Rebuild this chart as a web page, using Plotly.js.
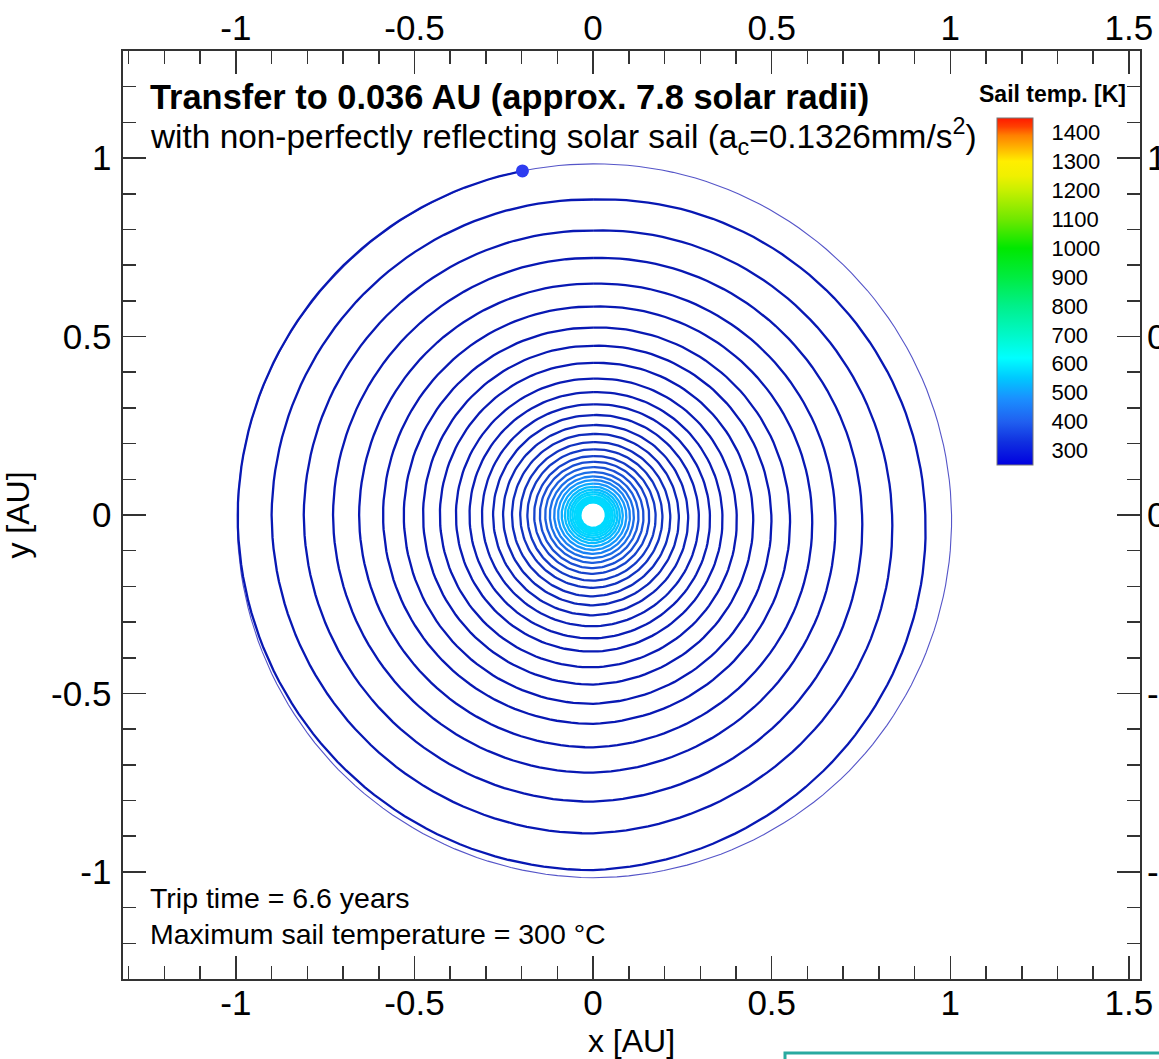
<!DOCTYPE html>
<html><head><meta charset="utf-8">
<script src="https://cdn.plot.ly/plotly-3.0.1.min.js"></script>
<style>html,body{margin:0;padding:0;background:#fff}</style>
</head><body><div id="chart" style="width:1159px;height:1059px"></div>
<script>
// ---------- data ----------
// spiral: radius [AU] at the start point and then at every quarter turn (180°, 270°, 360°, ...)
const spiralStartAngleDeg = 101.6;
const spiralR = [
0.984, 0.995, 0.995,
0.930, 0.884, 0.900, 0.892,
0.837, 0.797, 0.810, 0.803,
0.753, 0.720, 0.728, 0.722,
0.678, 0.648, 0.655, 0.651,
0.613, 0.584, 0.588, 0.585,
0.551, 0.525, 0.530, 0.529,
0.499, 0.474, 0.476, 0.475,
0.448, 0.426, 0.429, 0.427,
0.402, 0.382, 0.384, 0.383,
0.362, 0.344, 0.346, 0.346,
0.327, 0.310, 0.311, 0.312,
0.296, 0.280, 0.280, 0.281,
0.266, 0.252, 0.252, 0.253,
0.240, 0.227, 0.227, 0.228,
0.216, 0.204, 0.204, 0.204,
0.194, 0.184, 0.184, 0.184,
0.175, 0.165, 0.165, 0.165,
0.157, 0.149, 0.149, 0.149,
0.141, 0.134, 0.134, 0.134,
0.127, 0.120, 0.121, 0.121,
0.114, 0.108, 0.109, 0.109,
0.103, 0.098, 0.098, 0.098,
0.093, 0.088, 0.088, 0.088,
0.083, 0.079, 0.079, 0.079,
0.075, 0.071, 0.071, 0.071,
0.068, 0.064, 0.064, 0.064,
0.061, 0.058, 0.058, 0.058,
0.055, 0.051, 0.052, 0.052,
0.050, 0.047, 0.047, 0.047,
0.045, 0.043, 0.043, 0.043,
0.041, 0.039, 0.039, 0.039,
0.037, 0.036, 0.036, 0.036,
0.036, 0.036, 0.036
];
// sail temperature [K] on each successive turn (4 quarter segments per turn)
const turnTempK = [300,300,300,300,300,300,300,301,303,306,310,315,321,328,337,347,358,372,390,412,436,462,488,512,532,548,558,565,569,571,572,573,573,573];
// Earth orbit radius [AU] at polar angles
const earthAngleDeg = [0, 45, 90, 135, 180, 225, 270, 315];
const earthR = [1.0035, 0.9909, 0.9837, 0.9858, 0.9960, 1.0087, 1.0163, 1.0141];
// colour bar
const tempScaleK = [250, 330, 400, 480, 550, 620, 700, 800, 900, 1000, 1100, 1200, 1250, 1300, 1350, 1390, 1420, 1450];
const tempScaleColors = ['#0000e0','#1030e0','#2060f0','#1a90ff','#00c8ff','#00ffff','#00f8c8','#00f08a','#00ec40','#00e800','#70e800','#c8f000','#f0f000','#ffee00','#ffb000','#ff8000','#ff4000','#ff1a00'];
const cbTickVals = [300, 400, 500, 600, 700, 800, 900, 1000, 1100, 1200, 1300, 1400];
// axis ticks
const xTickVals = [-1, -0.5, 0, 0.5, 1, 1.5];
const xTickText = ['-1', '-0.5', '0', '0.5', '1', '1.5'];
const yTickVals = [-1, -0.5, 0, 0.5, 1];
const yTickText = ['-1', '-0.5', '0', '0.5', '1'];

// ---------- helpers ----------
const FONT = 'Liberation Sans, Arial, Helvetica, sans-serif';
const tMin = tempScaleK[0], tMax = tempScaleK[tempScaleK.length - 1];
const colorscale = tempScaleK.map((t, i) => [(t - tMin) / (tMax - tMin), tempScaleColors[i]]);
function hex2rgb(h) { return [parseInt(h.slice(1,3),16), parseInt(h.slice(3,5),16), parseInt(h.slice(5,7),16)]; }
function tempColor(T) {
  let i = 0;
  while (i < tempScaleK.length - 2 && T > tempScaleK[i + 1]) i++;
  const f = Math.max(0, Math.min(1, (T - tempScaleK[i]) / (tempScaleK[i + 1] - tempScaleK[i])));
  const a = hex2rgb(tempScaleColors[i]), b = hex2rgb(tempScaleColors[i + 1]);
  const dark = 0.8 + 0.2 * Math.min(1, Math.max(0, (T - 300) / 200));
  const c = a.map((v, k) => Math.round((v + (b[k] - v) * f) * dark));
  return 'rgb(' + c.join(',') + ')';
}
const rad = Math.PI / 180;
function pointAngle(i) { return i === 0 ? spiralStartAngleDeg : 180 + 90 * (i - 1); }

// ---------- traces ----------
const traces = [];
// Earth orbit
{
  const ex = [], ey = [];
  const n = earthAngleDeg.length;
  for (let k = 0; k < n; k++) {
    const a0 = earthAngleDeg[k], a1 = k + 1 < n ? earthAngleDeg[k + 1] : 360;
    const r0 = earthR[k], r1 = earthR[(k + 1) % n];
    for (let s = 0; s < 24; s++) {
      const t = s / 24, a = (a0 + (a1 - a0) * t) * rad, r = r0 + (r1 - r0) * t;
      ex.push(r * Math.cos(a)); ey.push(r * Math.sin(a));
    }
  }
  ex.push(ex[0]); ey.push(ey[0]);
  traces.push({type: 'scatter', mode: 'lines', x: ex, y: ey, line: {color: 'rgb(85,85,200)', width: 1.1}, hoverinfo: 'skip', showlegend: false});
}
// spiral, one trace per turn
{
  const nTurns = Math.ceil((spiralR.length - 1) / 4);
  for (let turn = 0; turn < nTurns; turn++) {
    const xs = [], ys = [];
    for (let j = turn * 4; j < Math.min(turn * 4 + 4, spiralR.length - 1); j++) {
      const a0 = pointAngle(j), a1 = pointAngle(j + 1);
      const r0 = spiralR[j], r1 = spiralR[j + 1];
      const steps = Math.max(4, Math.ceil((a1 - a0) / 2));
      for (let s = (j === turn * 4 ? 0 : 1); s <= steps; s++) {
        const t = s / steps, a = (a0 + (a1 - a0) * t) * rad, r = r0 * Math.pow(r1 / r0, t);
        xs.push(r * Math.cos(a)); ys.push(r * Math.sin(a));
      }
    }
    traces.push({type: 'scatter', mode: 'lines', x: xs, y: ys,
      line: {color: tempColor(turnTempK[turn]), width: 2.3}, hoverinfo: 'skip', showlegend: false});
  }
}
// start point
traces.push({type: 'scatter', mode: 'markers',
  x: [spiralR[0] * Math.cos(spiralStartAngleDeg * rad)], y: [spiralR[0] * Math.sin(spiralStartAngleDeg * rad)],
  marker: {color: 'rgb(45,60,240)', size: 13}, hoverinfo: 'skip', showlegend: false});
// colour bar carrier
traces.push({type: 'scatter', mode: 'markers', x: [0], y: [0], hoverinfo: 'skip', showlegend: false,
  marker: {size: 1, opacity: 0, color: [tMin], cmin: tMin, cmax: tMax, colorscale: colorscale, showscale: true,
    colorbar: {thickness: 36, thicknessmode: 'pixels', len: 347, lenmode: 'pixels',
      x: (997 - 123) / 1017, xanchor: 'left', xpad: 0, y: (979 - 291.5) / 928, yanchor: 'middle', ypad: 0,
      outlinewidth: 1, outlinecolor: '#777', tickmode: 'array', tickvals: cbTickVals,
      ticks: 'outside', ticklen: 14, tickcolor: 'rgba(0,0,0,0)', tickfont: {family: FONT, size: 22, color: '#000'},
      bgcolor: 'rgba(0,0,0,0)'}}});
// carrier for mirrored axes with labels
traces.push({type: 'scatter', mode: 'markers', x: [0], y: [0], xaxis: 'x2', yaxis: 'y2',
  marker: {opacity: 0, size: 1}, hoverinfo: 'skip', showlegend: false});

// ---------- layout ----------
const minorX = [], minorY = [];
for (let k = -13; k <= 15; k++) minorX.push(k / 10);
for (let k = -13; k <= 13; k++) minorY.push(k / 10);
const tickFont = {family: FONT, size: 35, color: '#000'};
const axBase = {ticks: 'inside', ticklen: 23, tickwidth: 1.5, tickcolor: '#333', showgrid: false, zeroline: false,
  tickfont: tickFont, fixedrange: true};
const xRange = [-1.316, 1.531], yRange = [-1.3, 1.3];
const layout = {
  width: 1159, height: 1059,
  margin: {l: 123, r: 19, t: 51, b: 80, autoexpand: false},
  paper_bgcolor: '#fff', plot_bgcolor: '#fff',
  showlegend: false,
  xaxis: Object.assign({}, axBase, {range: xRange, tickmode: 'array', tickvals: xTickVals, ticktext: xTickText,
    ticklabelstandoff: -8,
    minor: {tickmode: 'array', tickvals: minorX, ticks: 'inside', ticklen: 13, tickwidth: 1.5, tickcolor: '#333'},
    showline: true, mirror: true, linecolor: '#333', linewidth: 1.6,
    title: {text: 'x [AU]', font: {family: FONT, size: 32, color: '#000'}, standoff: 10}}),
  yaxis: Object.assign({}, axBase, {range: yRange, tickmode: 'array', tickvals: yTickVals, ticktext: yTickText,
    ticklabelstandoff: 3,
    minor: {tickmode: 'array', tickvals: minorY, ticks: 'inside', ticklen: 13, tickwidth: 1.5, tickcolor: '#333'},
    showline: true, mirror: true, linecolor: '#333', linewidth: 1.6,
    title: {text: 'y [AU]', font: {family: FONT, size: 32, color: '#000'}, standoff: 15}}),
  xaxis2: Object.assign({}, axBase, {range: xRange, overlaying: 'x', side: 'top', anchor: 'y2', tickmode: 'array',
    tickvals: xTickVals, ticktext: xTickText, ticklabelstandoff: 3,
    minor: {tickmode: 'array', tickvals: minorX, ticks: 'inside', ticklen: 13, tickwidth: 1.5, tickcolor: '#333'}}),
  yaxis2: Object.assign({}, axBase, {range: yRange, overlaying: 'y', side: 'right', anchor: 'x2', tickmode: 'array',
    tickvals: yTickVals, ticktext: yTickText, ticklabelstandoff: 6,
    minor: {tickmode: 'array', tickvals: minorY, ticks: 'inside', ticklen: 13, tickwidth: 1.5, tickcolor: '#333'}}),
  annotations: [
    {xref: 'paper', yref: 'paper', x: (148 - 123) / 1017, y: (979 - 97) / 928, xanchor: 'left', yanchor: 'middle',
      text: '<b>Transfer to 0.036 AU (approx. 7.8 solar radii)</b>', showarrow: false, font: {family: FONT, size: 34.4, color: '#000'}},
    {xref: 'paper', yref: 'paper', x: (148 - 123) / 1017, y: (979 - 137) / 928, xanchor: 'left', yanchor: 'middle',
      text: 'with non-perfectly reflecting solar sail (a<sub>c</sub>=0.1326mm/s<sup>2</sup>)', showarrow: false, font: {family: FONT, size: 33.4, color: '#000'}},
    {xref: 'paper', yref: 'paper', x: (148 - 123) / 1017, y: (979 - 898) / 928, xanchor: 'left', yanchor: 'middle',
      text: 'Trip time = 6.6 years', showarrow: false, font: {family: FONT, size: 28.5, color: '#000'}},
    {xref: 'paper', yref: 'paper', x: (148 - 123) / 1017, y: (979 - 934) / 928, xanchor: 'left', yanchor: 'middle',
      text: 'Maximum sail temperature = 300 °C', showarrow: false, font: {family: FONT, size: 28.5, color: '#000'}},
    {xref: 'paper', yref: 'paper', x: (1052 - 123) / 1017, y: (979 - 94) / 928, xanchor: 'center', yanchor: 'middle',
      text: '<b>Sail temp. [K]</b>', showarrow: false, font: {family: FONT, size: 23, color: '#000'}}
  ],
  shapes: [
    {type: 'rect', xref: 'paper', yref: 'paper', x0: (785 - 123) / 1017, x1: 1.2, y0: (979 - 1053) / 928, y1: -0.3,
      line: {color: 'rgb(40,170,160)', width: 3}, fillcolor: 'rgba(0,0,0,0)'}
  ]
};
Plotly.newPlot('chart', traces, layout, {staticPlot: true, displayModeBar: false});
</script>
</body></html>
